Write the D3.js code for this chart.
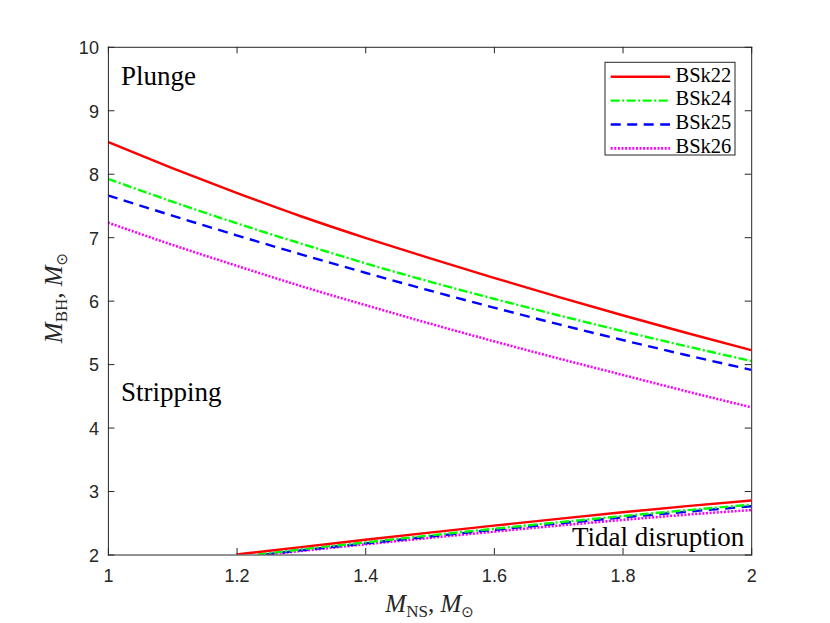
<!DOCTYPE html>
<html><head><meta charset="utf-8">
<script src="https://cdn.jsdelivr.net/npm/d3@7"></script>
<style>body{margin:0;background:#fff;} svg{display:block;}</style>
</head><body>
<svg id="c" width="830" height="623"></svg>
<script>
// ---- data ----
const xTicks = [1, 1.2, 1.4, 1.6, 1.8, 2];
const yTicks = [2, 3, 4, 5, 6, 7, 8, 9, 10];
const seriesNames = ["BSk22", "BSk24", "BSk25", "BSk26"];
const seriesColors = ["#ff0000", "#00ff00", "#0000ff", "#ff00ff"];

const upperX = [1.0, 1.1, 1.2, 1.3, 1.4, 1.5, 1.6, 1.7, 1.8, 1.9, 2.0];
const bsk22Upper = [8.50, 8.09, 7.70, 7.33, 6.99, 6.67, 6.36, 6.06, 5.77, 5.49, 5.22];
const bsk24Upper = [7.92, 7.56, 7.22, 6.90, 6.59, 6.30, 6.03, 5.77, 5.52, 5.28, 5.05];
const bsk25Upper = [7.66, 7.34, 7.03, 6.73, 6.44, 6.16, 5.89, 5.63, 5.38, 5.14, 4.91];
const bsk26Upper = [7.23, 6.88, 6.55, 6.23, 5.93, 5.64, 5.36, 5.09, 4.83, 4.57, 4.32];

const bsk22LowerX = [1.2, 1.3, 1.4, 1.5, 1.6, 1.7, 1.8, 1.9, 2.0];
const bsk22Lower  = [2.00, 2.117, 2.232, 2.345, 2.455, 2.562, 2.665, 2.762, 2.852];
const bsk24LowerX = [1.233, 1.3, 1.4, 1.5, 1.6, 1.7, 1.8, 1.9, 2.0];
const bsk24Lower  = [2.00, 2.08, 2.19, 2.30, 2.405, 2.507, 2.605, 2.698, 2.785];
const bsk25LowerX = [1.245, 1.3, 1.4, 1.5, 1.6, 1.7, 1.8, 1.9, 2.0];
const bsk25Lower  = [2.00, 2.065, 2.175, 2.283, 2.388, 2.488, 2.584, 2.674, 2.76];
const bsk26LowerX = [1.25, 1.3, 1.4, 1.5, 1.6, 1.7, 1.8, 1.9, 2.0];
const bsk26Lower  = [2.00, 2.055, 2.16, 2.262, 2.36, 2.455, 2.545, 2.628, 2.70];

const regionLabels = ["Plunge", "Stripping", "Tidal disruption"];

// ---- layout ----
const svg = d3.select("#c");
svg.append("rect").attr("width", 830).attr("height", 623).attr("fill", "#fff");
const L = 107.9, R = 751.2, T = 46.8, B = 554.5;
const x = d3.scaleLinear().domain([1, 2]).range([L, R]);
const y = d3.scaleLinear().domain([2, 10]).range([B, T]);
const axisCol = "#262626";

const styles = [
  {dash: null, w: 2.4},
  {dash: "9,2.5,2,2.5", w: 2.4},
  {dash: "10,6.5", w: 2.4},
  {dash: "2,1.6", w: 2.6}
];

svg.append("clipPath").attr("id", "clip").append("rect")
  .attr("x", L).attr("y", T).attr("width", R - L).attr("height", B - T);

const line = d3.line().x(d => x(d[0])).y(d => y(d[1])).curve(d3.curveMonotoneX);
const upper = [bsk22Upper, bsk24Upper, bsk25Upper, bsk26Upper];
const lowerXs = [bsk22LowerX, bsk24LowerX, bsk25LowerX, bsk26LowerX];
const lower = [bsk22Lower, bsk24Lower, bsk25Lower, bsk26Lower];

const g = svg.append("g").attr("clip-path", "url(#clip)");
for (let i = 3; i >= 0; i--) {
  const up = upperX.map((v, k) => [v, upper[i][k]]);
  const lo = lowerXs[i].map((v, k) => [v, lower[i][k]]);
  [up, lo].forEach(pts => {
    g.append("path").attr("d", line(pts)).attr("fill", "none")
      .attr("stroke", seriesColors[i]).attr("stroke-width", styles[i].w)
      .attr("stroke-dasharray", styles[i].dash);
  });
}

// region labels
const labelPos = [
  {x: L + 13, y: 85, anchor: "start"},
  {x: L + 13, y: 401, anchor: "start"},
  {x: R - 7, y: 546, anchor: "end"}
];
regionLabels.forEach((t, i) => {
  svg.append("text").attr("x", labelPos[i].x).attr("y", labelPos[i].y)
    .attr("text-anchor", labelPos[i].anchor)
    .attr("font-family", "Liberation Serif").attr("font-size", 27)
    .attr("fill", "#000").text(t);
});

// axes
const tk = 6.5;
function styleAxis(sel) {
  sel.selectAll("path").attr("stroke", axisCol).attr("stroke-width", 1);
  sel.selectAll("line").attr("stroke", axisCol).attr("stroke-width", 1);
  sel.selectAll("text").attr("fill", axisCol)
    .attr("font-family", "Liberation Sans").attr("font-size", 18);
}
const fmt = d => d3.format("")(d);
svg.append("g").attr("transform", `translate(0,${B})`)
  .call(d3.axisBottom(x).tickValues(xTicks).tickFormat(fmt).tickSizeInner(-tk).tickSizeOuter(0).tickPadding(10))
  .call(styleAxis).call(s => s.selectAll("text").attr("dy", "0.95em"));
svg.append("g").attr("transform", `translate(0,${T})`)
  .call(d3.axisTop(x).tickValues(xTicks).tickFormat("").tickSizeInner(-tk).tickSizeOuter(0))
  .call(styleAxis);
svg.append("g").attr("transform", `translate(${L},0)`)
  .call(d3.axisLeft(y).tickValues(yTicks).tickFormat(fmt).tickSizeInner(-tk).tickSizeOuter(0).tickPadding(9))
  .call(styleAxis).call(s => s.selectAll("text").attr("dy", "0.38em"));
svg.append("g").attr("transform", `translate(${R},0)`)
  .call(d3.axisRight(y).tickValues(yTicks).tickFormat("").tickSizeInner(-tk).tickSizeOuter(0))
  .call(styleAxis);
svg.selectAll(".domain").attr("stroke-linecap", "square");

// axis labels
function massLabel(sel, sub) {
  sel.attr("font-family", "Liberation Serif").attr("font-size", 25).attr("fill", axisCol);
  sel.append("tspan").attr("font-style", "italic").text("M");
  sel.append("tspan").attr("font-size", 17).attr("dy", 5).text(sub);
  sel.append("tspan").attr("dy", -5).text(", ");
  sel.append("tspan").attr("font-style", "italic").text("M");
  sel.append("tspan").attr("font-size", 15).attr("dy", 5)
    .attr("font-family", "DejaVu Sans").text("\u2299");
}
svg.append("text").attr("x", x(1.5)).attr("y", 612).attr("text-anchor", "middle")
  .call(massLabel, "NS");
svg.append("text").attr("transform", `translate(62,298) rotate(-90)`).attr("text-anchor", "middle")
  .call(massLabel, "BH");

// legend
const lg = svg.append("g");
lg.append("rect").attr("x", 605).attr("y", 62.3).attr("width", 130).attr("height", 92.7)
  .attr("fill", "#fff").attr("stroke", axisCol).attr("stroke-width", 1);
seriesNames.forEach((n, i) => {
  const ly = 76.7 + i * 23.9;
  lg.append("line").attr("x1", 610.7).attr("x2", 670).attr("y1", ly).attr("y2", ly)
    .attr("stroke", seriesColors[i]).attr("stroke-width", styles[i].w)
    .attr("stroke-dasharray", styles[i].dash);
  lg.append("text").attr("x", 675.5).attr("y", ly + 4.8)
    .attr("font-family", "Liberation Serif").attr("font-size", 20.5).attr("fill", "#000").text(n);
});
</script>
</body></html>
